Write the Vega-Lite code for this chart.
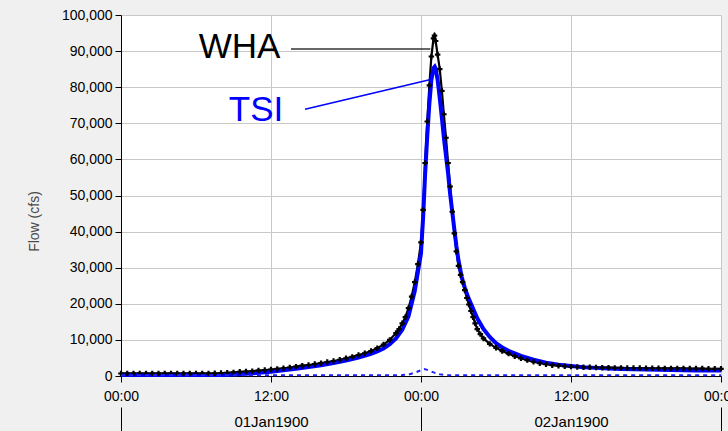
{
  "$schema": "https://vega.github.io/schema/vega-lite/v6.json",
  "width": 600,
  "height": 361,
  "autosize": {"type": "none"},
  "padding": {"left": 121, "top": 15, "right": 7, "bottom": 55},
  "background": "#f0f0f0",
  "config": {"view": {"fill": "white", "stroke": null}, "font": "Liberation Sans"},
  "datasets": {
    "wha": [
      {"h":0,"flow":700},{"h":0.5,"flow":700},{"h":1,"flow":700},{"h":1.5,"flow":700},{"h":2,"flow":700},{"h":2.5,"flow":700},{"h":3,"flow":700},{"h":3.5,"flow":700},{"h":4,"flow":700},{"h":4.5,"flow":700},{"h":5,"flow":700},{"h":5.5,"flow":700},{"h":6,"flow":700},{"h":6.5,"flow":700},{"h":7,"flow":700},{"h":7.5,"flow":750},{"h":8,"flow":800},{"h":8.5,"flow":900},{"h":9,"flow":1000},{"h":9.5,"flow":1150},{"h":10,"flow":1250},{"h":10.5,"flow":1350},{"h":11,"flow":1500},{"h":11.5,"flow":1650},{"h":12,"flow":1800},{"h":12.5,"flow":1950},{"h":13,"flow":2150},{"h":13.5,"flow":2350},{"h":14,"flow":2600},{"h":14.5,"flow":2850},{"h":15,"flow":3050},{"h":15.5,"flow":3300},{"h":16,"flow":3550},{"h":16.5,"flow":3850},{"h":17,"flow":4150},{"h":17.5,"flow":4500},{"h":18,"flow":4900},{"h":18.5,"flow":5300},{"h":19,"flow":5800},{"h":19.5,"flow":6300},{"h":20,"flow":6900},{"h":20.5,"flow":7700},{"h":21,"flow":8700},{"h":21.5,"flow":10000},{"h":22,"flow":11900},{"h":22.25,"flow":13000},{"h":22.5,"flow":14600},{"h":22.75,"flow":16300},{"h":23,"flow":18800},{"h":23.25,"flow":22000},{"h":23.5,"flow":26000},{"h":23.75,"flow":31000},{"h":24,"flow":37000},{"h":24.17,"flow":46000},{"h":24.33,"flow":59000},{"h":24.5,"flow":70500},{"h":24.67,"flow":80500},{"h":24.83,"flow":88500},{"h":25,"flow":93500},{"h":25.08,"flow":94300},{"h":25.17,"flow":92800},{"h":25.33,"flow":89000},{"h":25.5,"flow":85000},{"h":25.67,"flow":79000},{"h":25.83,"flow":72500},{"h":26,"flow":66000},{"h":26.17,"flow":59000},{"h":26.33,"flow":52500},{"h":26.5,"flow":45500},{"h":26.67,"flow":39500},{"h":26.83,"flow":34500},{"h":27,"flow":30500},{"h":27.17,"flow":28000},{"h":27.33,"flow":26000},{"h":27.5,"flow":23800},{"h":27.67,"flow":21600},{"h":27.83,"flow":19800},{"h":28,"flow":18000},{"h":28.17,"flow":16300},{"h":28.33,"flow":14600},{"h":28.5,"flow":13000},{"h":28.75,"flow":11600},{"h":29,"flow":10400},{"h":29.5,"flow":8900},{"h":30,"flow":7800},{"h":30.5,"flow":6900},{"h":31,"flow":6200},{"h":31.5,"flow":5500},{"h":32,"flow":4900},{"h":32.5,"flow":4400},{"h":33,"flow":3950},{"h":33.5,"flow":3550},{"h":34,"flow":3250},{"h":34.5,"flow":3000},{"h":35,"flow":2850},{"h":35.5,"flow":2700},{"h":36,"flow":2600},{"h":36.5,"flow":2500},{"h":37,"flow":2450},{"h":37.5,"flow":2400},{"h":38,"flow":2350},{"h":38.5,"flow":2300},{"h":39,"flow":2300},{"h":39.5,"flow":2250},{"h":40,"flow":2250},{"h":40.5,"flow":2200},{"h":41,"flow":2200},{"h":41.5,"flow":2200},{"h":42,"flow":2150},{"h":42.5,"flow":2150},{"h":43,"flow":2150},{"h":43.5,"flow":2100},{"h":44,"flow":2100},{"h":44.5,"flow":2100},{"h":45,"flow":2100},{"h":45.5,"flow":2050},{"h":46,"flow":2050},{"h":46.5,"flow":2050},{"h":47,"flow":2000},{"h":47.5,"flow":2000},{"h":48,"flow":2000}
    ],
    "tsi": [
      {"h":0,"flow":300},{"h":2,"flow":300},{"h":4,"flow":300},{"h":6,"flow":300},{"h":8,"flow":300},{"h":9,"flow":400},{"h":10,"flow":600},{"h":11,"flow":900},{"h":12,"flow":1200},{"h":13,"flow":1600},{"h":14,"flow":2000},{"h":15,"flow":2500},{"h":16,"flow":3000},{"h":17,"flow":3600},{"h":18,"flow":4300},{"h":19,"flow":5100},{"h":20,"flow":6100},{"h":20.5,"flow":6800},{"h":21,"flow":7600},{"h":21.5,"flow":8800},{"h":22,"flow":10400},{"h":22.5,"flow":12800},{"h":23,"flow":16500},{"h":23.5,"flow":23500},{"h":24,"flow":34000},{"h":24.17,"flow":44000},{"h":24.33,"flow":56000},{"h":24.5,"flow":66500},{"h":24.67,"flow":75500},{"h":24.83,"flow":82000},{"h":25,"flow":85300},{"h":25.1,"flow":85700},{"h":25.17,"flow":85200},{"h":25.33,"flow":82000},{"h":25.5,"flow":77000},{"h":25.67,"flow":71500},{"h":25.83,"flow":66000},{"h":26,"flow":61000},{"h":26.17,"flow":56000},{"h":26.33,"flow":50500},{"h":26.5,"flow":45500},{"h":26.67,"flow":40500},{"h":26.83,"flow":36000},{"h":27,"flow":32000},{"h":27.25,"flow":27500},{"h":27.5,"flow":24500},{"h":27.75,"flow":22000},{"h":28,"flow":20000},{"h":28.5,"flow":16000},{"h":29,"flow":13000},{"h":29.5,"flow":10800},{"h":30,"flow":9100},{"h":30.5,"flow":7900},{"h":31,"flow":7000},{"h":31.5,"flow":6300},{"h":32,"flow":5600},{"h":33,"flow":4500},{"h":34,"flow":3700},{"h":35,"flow":3100},{"h":36,"flow":2750},{"h":37,"flow":2450},{"h":38,"flow":2250},{"h":39,"flow":2100},{"h":40,"flow":1950},{"h":42,"flow":1800},{"h":44,"flow":1650},{"h":46,"flow":1550},{"h":48,"flow":1500}
    ],
    "local": [
      {"h":0,"flow":200},{"h":22,"flow":200},{"h":22.5,"flow":250},{"h":23,"flow":400},{"h":23.5,"flow":900},{"h":24,"flow":1600},{"h":24.25,"flow":1900},{"h":24.5,"flow":1700},{"h":25,"flow":1000},{"h":25.5,"flow":500},{"h":26,"flow":250},{"h":26.5,"flow":200},{"h":48,"flow":200}
    ],
    "connectors": [
      {"name":"WHA","h":13.6,"flow":90600},{"name":"WHA","h":24.75,"flow":90600},
      {"name":"TSI","h":14.72,"flow":73900},{"name":"TSI","h":24.86,"flow":82200}
    ],
    "labels": [
      {"name":"WHA","h":9.48,"flow":91100},
      {"name":"TSI","h":10.8,"flow":73600}
    ],
    "days": [
      {"h":0,"flow":0},{"h":12,"flow":0},{"h":24,"flow":0},{"h":36,"flow":0},{"h":48,"flow":0}
    ]
  },
  "resolve": {"axis": {"x": "independent"}, "scale": {"color": "independent"}},
  "encoding": {
    "y": {"field": "flow", "type": "quantitative", "scale": {"domain": [0, 100000], "nice": false},
      "axis": {"title": "Flow (cfs)", "values": [0,10000,20000,30000,40000,50000,60000,70000,80000,90000,100000],
        "labelExpr": "format(datum.value, ',')", "labelFontSize": 14, "labelColor": "#000000", "labelPadding": 3,
        "tickSize": 6, "tickColor": "#000000", "domainColor": "#000000",
        "grid": true, "gridColor": "#c8c8c8",
        "titleFontSize": 14, "titleFontWeight": "normal", "titleColor": "#4a4a4a",
        "titleX": -87, "titleY": 206, "titleAngle": -90, "titleAlign": "center", "titleBaseline": "middle"}}
  },
  "layer": [
    {
      "data": {"name": "wha"},
      "mark": {"type": "line", "color": "#000000", "strokeWidth": 2.2},
      "encoding": {
        "x": {"field": "h", "type": "quantitative", "scale": {"domain": [0, 48], "nice": false},
          "axis": {"title": null, "values": [0, 12, 24, 36, 48],
            "labelExpr": "datum.value % 24 == 0 ? '00:00' : '12:00'",
            "labelFontSize": 14, "labelColor": "#000000", "labelPadding": 7, "labelFlush": false,
            "tickSize": 6, "tickColor": "#000000", "domainColor": "#000000",
            "grid": true, "gridColor": "#c8c8c8", "gridWidth": 1}}
      }
    },
    {
      "data": {"name": "tsi"},
      "mark": {"type": "line", "color": "#0000ff", "strokeWidth": 4},
      "encoding": {
        "x": {"field": "h", "type": "quantitative", "axis": null}
      }
    },
    {
      "data": {"name": "wha"},
      "mark": {"type": "point", "shape": "cross", "filled": true, "color": "#000000", "size": 30, "opacity": 1},
      "encoding": {
        "x": {"field": "h", "type": "quantitative", "axis": null}
      }
    },
    {
      "data": {"name": "local"},
      "mark": {"type": "line", "color": "#2020ff", "strokeWidth": 2, "strokeDash": [4, 4]},
      "encoding": {
        "x": {"field": "h", "type": "quantitative", "axis": null}
      }
    },
    {
      "data": {"name": "connectors"},
      "mark": {"type": "line", "strokeWidth": 1.5},
      "encoding": {
        "x": {"field": "h", "type": "quantitative", "axis": null},
        "detail": {"field": "name"},
        "color": {"field": "name", "type": "nominal", "scale": {"domain": ["WHA", "TSI"], "range": ["#333333", "#0000ff"]}, "legend": null}
      }
    },
    {
      "data": {"name": "labels"},
      "mark": {"type": "text", "fontSize": 35, "align": "center", "baseline": "middle"},
      "encoding": {
        "x": {"field": "h", "type": "quantitative", "axis": null},
        "text": {"field": "name"},
        "color": {"field": "name", "type": "nominal", "scale": {"domain": ["WHA", "TSI"], "range": ["#000000", "#0000ff"]}, "legend": null}
      }
    },
    {
      "data": {"name": "days"},
      "mark": {"type": "point", "opacity": 0},
      "encoding": {
        "x": {"field": "h", "type": "quantitative",
          "axis": {"title": null, "values": [12, 36], "orient": "bottom", "offset": 37,
            "labelExpr": "datum.value == 12 ? '01Jan1900' : '02Jan1900'",
            "labelFontSize": 15, "labelColor": "#000000", "labelPadding": 1,
            "ticks": false, "domain": false, "grid": false}}
      }
    },
    {
      "data": {"name": "days"},
      "mark": {"type": "point", "opacity": 0},
      "encoding": {
        "x": {"field": "h", "type": "quantitative",
          "axis": {"title": null, "values": [0, 24, 48], "orient": "bottom", "offset": 31,
            "labels": false, "tickSize": 25, "tickColor": "#000000", "domain": false, "grid": false}}
      }
    }
  ]
}
